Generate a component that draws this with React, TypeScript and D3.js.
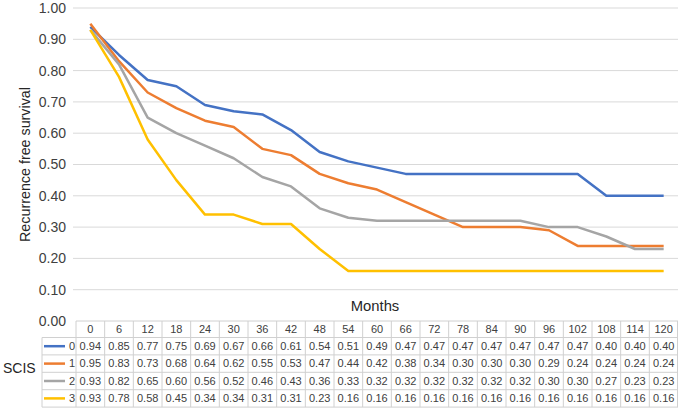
import React from "react";
import * as d3 from "d3";

const months = [0, 6, 12, 18, 24, 30, 36, 42, 48, 54, 60, 66, 72, 78, 84, 90, 96, 102, 108, 114, 120];
const seriesNames = ["0", "1", "2", "3"];
const s0 = [0.94, 0.85, 0.77, 0.75, 0.69, 0.67, 0.66, 0.61, 0.54, 0.51, 0.49, 0.47, 0.47, 0.47, 0.47, 0.47, 0.47, 0.47, 0.40, 0.40, 0.40];
const s1 = [0.95, 0.83, 0.73, 0.68, 0.64, 0.62, 0.55, 0.53, 0.47, 0.44, 0.42, 0.38, 0.34, 0.30, 0.30, 0.30, 0.29, 0.24, 0.24, 0.24, 0.24];
const s2 = [0.93, 0.82, 0.65, 0.60, 0.56, 0.52, 0.46, 0.43, 0.36, 0.33, 0.32, 0.32, 0.32, 0.32, 0.32, 0.32, 0.30, 0.30, 0.27, 0.23, 0.23];
const s3 = [0.93, 0.78, 0.58, 0.45, 0.34, 0.34, 0.31, 0.31, 0.23, 0.16, 0.16, 0.16, 0.16, 0.16, 0.16, 0.16, 0.16, 0.16, 0.16, 0.16, 0.16];
const colors = ["#4472C4", "#ED7D31", "#A5A5A5", "#FFC000"];
const yTicks = [0, 0.1, 0.2, 0.3, 0.4, 0.5, 0.6, 0.7, 0.8, 0.9, 1.0];

export default function App() {
  const W = 680, H = 408;
  const left = 76, right = 678;
  const yTop = 8, yBot = 321;
  const data = [s0, s1, s2, s3];
  const x = d3.scaleBand<number>().domain(months).range([left, right]);
  const y = d3.scaleLinear().domain([0, 1]).range([yBot, yTop]);
  const line = d3.line<number>().x((_, i) => (x(months[i]) as number) + x.bandwidth() / 2).y((d) => y(d));
  const font = "Helvetica, Arial, 'Liberation Sans', sans-serif";
  const headerTop = 321, headerH = 16.5, rowH = 17.4;
  const legendLeft = 42;
  const grid = "#d9d9d9";
  const tableLine = "#d0d0d0";
  return (
    <svg width={W} height={H} style={{ position: "absolute", left: 0, top: 0 }} fontFamily={font}>
      <rect x={0} y={0} width={W} height={H} fill="#fff" />
      {yTicks.map((t) => (
        <g key={t}>
          {t > 0 && <line x1={73} x2={right} y1={y(t)} y2={y(t)} stroke={grid} strokeWidth={1} />}
          <text x={66} y={y(t)} dy="0.35em" textAnchor="end" fontSize={14} fill="#404040">{t.toFixed(2)}</text>
        </g>
      ))}
      <text transform={`translate(30,164.5) rotate(-90)`} textAnchor="middle" fontSize={14.3} fill="#262626">Recurrence free survival</text>
      <text x={375} y={310.5} textAnchor="middle" fontSize={14.8} fill="#262626">Months</text>
      {data.map((s, k) => (
        <path key={k} d={line(s) || ""} fill="none" stroke={colors[k]} strokeWidth={2.5} strokeLinejoin="round" />
      ))}
      <g>
        <line x1={left} x2={right} y1={headerTop} y2={headerTop} stroke={tableLine} />
        {[0, 1, 2, 3, 4].map((r) => {
          const yy = headerTop + headerH + r * rowH;
          return <line key={r} x1={legendLeft} x2={right} y1={yy} y2={yy} stroke={tableLine} />;
        })}
        <line x1={legendLeft} x2={legendLeft} y1={headerTop + headerH} y2={headerTop + headerH + 4 * rowH} stroke={tableLine} />
        {months.map((m) => (
          <line key={m} x1={x(m)} x2={x(m)} y1={headerTop} y2={headerTop + headerH + 4 * rowH} stroke={tableLine} />
        ))}
        <line x1={right - 0.5} x2={right - 0.5} y1={headerTop} y2={headerTop + headerH + 4 * rowH} stroke={tableLine} />
        {months.map((m) => (
          <text key={m} x={(x(m) as number) + x.bandwidth() / 2} y={headerTop + headerH / 2} dy="0.35em" textAnchor="middle" fontSize={11} fill="#404040">{m}</text>
        ))}
        {data.map((s, k) => {
          const cy = headerTop + headerH + k * rowH + rowH / 2;
          return (
            <g key={k}>
              <line x1={legendLeft + 2} x2={legendLeft + 23} y1={cy} y2={cy} stroke={colors[k]} strokeWidth={2.5} />
              <text x={left - 1} y={cy} dy="0.35em" textAnchor="end" fontSize={11} fill="#404040">{seriesNames[k]}</text>
              {s.map((v, i) => (
                <text key={i} x={(x(months[i]) as number) + x.bandwidth() / 2} y={cy} dy="0.35em" textAnchor="middle" fontSize={11} fill="#404040">{v.toFixed(2)}</text>
              ))}
            </g>
          );
        })}
        <text x={3} y={368} dy="0.35em" fontSize={14} fill="#262626">SCIS</text>
      </g>
    </svg>
  );
}
